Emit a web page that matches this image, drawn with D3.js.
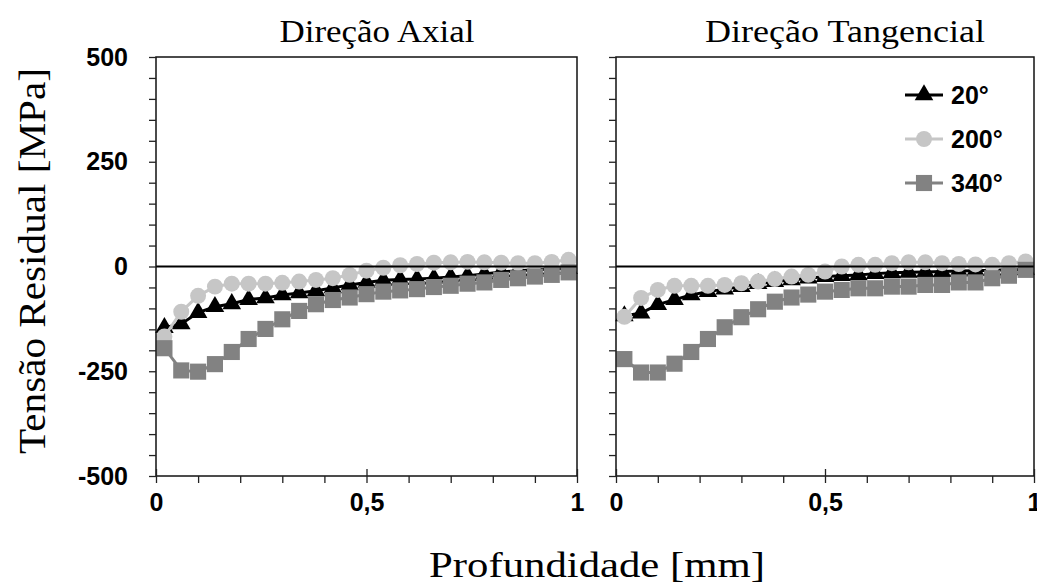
<!DOCTYPE html>
<html>
<head>
<meta charset="utf-8">
<script src="https://cdn.jsdelivr.net/npm/d3@7"></script>
<style>
  body { margin: 0; background: #fff; }
  svg { display: block; }
</style>
</head>
<body>
<div id="chart"></div>
<script>
// depth values (mm) shared by every series
var depth = [0.02, 0.06, 0.10, 0.14, 0.18, 0.22, 0.26, 0.30, 0.34, 0.38, 0.42, 0.46, 0.50,
  0.54, 0.58, 0.62, 0.66, 0.70, 0.74, 0.78, 0.82, 0.86, 0.90, 0.94, 0.98];

// Direção Axial
var axial20 = [-146, -137, -110, -96, -89, -79, -75, -68, -63, -58, -51, -44, -38,
  -33, -31, -30, -28, -25, -22, -18, -13, -10, -8, -6, -5];
var axial200 = [-167, -108, -70, -48, -41, -41, -41, -39, -36, -32, -28, -20, -10,
  -3, 3, 6, 9, 10, 11, 10, 9, 8, 8, 11, 16];
var axial340 = [-195, -248, -251, -233, -204, -173, -149, -126, -106, -90, -80, -74, -66,
  -60, -57, -54, -49, -46, -41, -38, -32, -28, -24, -20, -14];

// Direção Tangencial
var tang20 = [-118, -111, -91, -79, -68, -60, -54, -48, -41, -36, -32, -28, -24,
  -22, -20, -17, -15, -14, -13, -12, -11, -10, -9, -8, -7];
var tang200 = [-120, -75, -56, -46, -46, -46, -44, -40, -36, -30, -24, -20, -12,
  0, 4, 4, 8, 10, 10, 8, 6, 5, 4, 8, 12];
var tang340 = [-221, -253, -253, -232, -204, -173, -145, -121, -102, -84, -74, -67, -60,
  -56, -52, -52, -48, -48, -44, -44, -38, -38, -28, -22, -8];

var seriesNames = ["20°", "200°", "340°"];
var panelTitles = ["Direção Axial", "Direção Tangencial"];
var xTickLabels = {0: "0", 0.5: "0,5", 1: "1"};
var yLabelTicks = [-500, -250, 0, 250, 500];

var width = 1037, height = 586;

var svg = d3.select("#chart")
  .append("svg")
  .attr("width", width)
  .attr("height", height);

var y = d3.scaleLinear().domain([-500, 500]).range([476, 57]);

var panels = [
  {title: panelTitles[0], titleX: 377, x: d3.scaleLinear().domain([0, 1]).range([156, 577]),
    data: [axial20, axial200, axial340], yLabels: true, titleLen: 195},
  {title: panelTitles[1], titleX: 845, x: d3.scaleLinear().domain([0, 1]).range([616, 1034]),
    data: [tang20, tang200, tang340], yLabels: false, titleLen: 280}
];

// marker style per series
var styles = [
  {color: "#000000", symbol: d3.symbolTriangle, size: 150},
  {color: "#c6c6c6", symbol: d3.symbolCircle, size: 200},
  {color: "#828282", symbol: d3.symbolSquare, size: 260}
];

var tickFont = "'Liberation Sans', Arial, sans-serif";
var serifFont = "'Liberation Serif', 'Times New Roman', serif";

panels.forEach(function(p) {
  var g = svg.append("g");
  var x = p.x;

  // series: lines then markers
  p.data.forEach(function(vals, si) {
    var pts = depth.map(function(d, i) { return {x: d, y: vals[i]}; });
    var line = d3.line()
      .x(function(d) { return x(d.x); })
      .y(function(d) { return y(d.y); });
    g.append("path")
      .datum(pts)
      .attr("d", line)
      .attr("fill", "none")
      .attr("stroke", styles[si].color)
      .attr("stroke-width", 3);
    g.selectAll(".m" + si)
      .data(pts)
      .enter()
      .append("path")
      .attr("transform", function(d) { return "translate(" + x(d.x) + "," + y(d.y) + ")"; })
      .attr("d", d3.symbol().type(styles[si].symbol).size(styles[si].size))
      .attr("fill", styles[si].color);
  });

  // zero line
  g.append("line")
    .attr("x1", x(0)).attr("x2", x(1))
    .attr("y1", y(0)).attr("y2", y(0))
    .attr("stroke", "#000")
    .attr("stroke-width", 2);

  // frame
  g.append("rect")
    .attr("x", x(0)).attr("y", y(500))
    .attr("width", x(1) - x(0)).attr("height", y(-500) - y(500))
    .attr("fill", "none")
    .attr("stroke", "#111")
    .attr("stroke-width", 1.5);

  // y axis
  var yAxis = g.append("g")
    .attr("transform", "translate(" + x(0) + ",0)")
    .call(d3.axisLeft(y).tickValues(y.ticks(20)).tickSize(7).tickPadding(21)
      .tickFormat(function(d) { return (p.yLabels && yLabelTicks.indexOf(d) >= 0) ? d : ""; }));
  yAxis.select(".domain").remove();
  yAxis.selectAll("line").attr("stroke", "#222").attr("stroke-width", 1.3);
  yAxis.selectAll("text")
    .style("font-family", tickFont)
    .style("font-size", "25px")
    .style("font-weight", "bold")
    .attr("fill", "#000");

  // x axis
  var xAxis = g.append("g")
    .attr("transform", "translate(0," + y(-500) + ")")
    .call(d3.axisBottom(x).ticks(10).tickSize(7).tickPadding(10)
      .tickFormat(function(d) { return xTickLabels[d] || ""; }));
  xAxis.select(".domain").remove();
  xAxis.selectAll("line")
    .attr("stroke", "#222").attr("stroke-width", 1.3)
    .attr("y1", function(d) { return (d === 0.5 || d === 0 || d === 1) ? -7 : 0; });
  xAxis.selectAll("text")
    .style("font-family", tickFont)
    .style("font-size", "25px")
    .style("font-weight", "bold")
    .attr("fill", "#000");

  // panel title
  svg.append("text")
    .attr("x", p.titleX)
    .attr("y", 42)
    .attr("text-anchor", "middle")
    .attr("textLength", p.titleLen)
    .attr("lengthAdjust", "spacingAndGlyphs")
    .style("font-family", serifFont)
    .style("font-size", "32px")
    .text(p.title);
});

// legend in right panel
var legend = svg.append("g");
seriesNames.forEach(function(name, i) {
  var ly = 95 + i * 44;
  legend.append("line")
    .attr("x1", 905).attr("x2", 943)
    .attr("y1", ly).attr("y2", ly)
    .attr("stroke", styles[i].color)
    .attr("stroke-width", 3);
  legend.append("path")
    .attr("transform", "translate(924," + ly + ")")
    .attr("d", d3.symbol().type(styles[i].symbol).size(styles[i].size))
    .attr("fill", styles[i].color);
  legend.append("text")
    .attr("x", 951)
    .attr("y", ly + 9)
    .style("font-family", tickFont)
    .style("font-size", "25px")
    .style("font-weight", "bold")
    .text(name);
});

// axis titles
svg.append("text")
  .attr("x", 597)
  .attr("y", 577)
  .attr("text-anchor", "middle")
  .attr("textLength", 336)
  .attr("lengthAdjust", "spacingAndGlyphs")
  .style("font-family", serifFont)
  .style("font-size", "36px")
  .text("Profundidade [mm]");

svg.append("text")
  .attr("transform", "translate(45,261) rotate(-90)")
  .attr("text-anchor", "middle")
  .attr("textLength", 386)
  .attr("lengthAdjust", "spacingAndGlyphs")
  .style("font-family", serifFont)
  .style("font-size", "38px")
  .text("Tensão Residual [MPa]");
</script>
</body>
</html>
